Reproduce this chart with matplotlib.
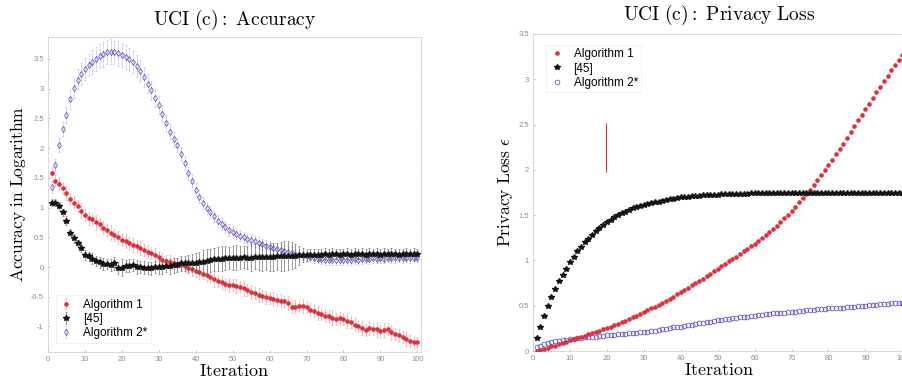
import matplotlib
matplotlib.use("Agg")
import matplotlib.pyplot as plt
import numpy as np

# ---------------- data ----------------
iterations = list(range(1, 101))

# Left panel: accuracy in logarithm
alg1_acc = [1.59, 1.45, 1.40, 1.33, 1.25, 1.15, 1.08, 1.02, 0.95, 0.87,
            0.82, 0.80, 0.75, 0.72, 0.66, 0.62, 0.58, 0.54, 0.50, 0.46,
            0.44, 0.40, 0.37, 0.35, 0.32, 0.28, 0.26, 0.24, 0.20, 0.17,
            0.12, 0.10, 0.09, 0.06, 0.05, 0.03, 0.02, -0.01, -0.04, -0.06,
            -0.09, -0.11, -0.14, -0.16, -0.21, -0.24, -0.26, -0.28, -0.30, -0.30,
            -0.32, -0.33, -0.36, -0.38, -0.42, -0.44, -0.47, -0.49, -0.51, -0.52,
            -0.54, -0.56, -0.57, -0.58, -0.61, -0.67, -0.67, -0.65, -0.66, -0.68,
            -0.72, -0.74, -0.77, -0.79, -0.82, -0.83, -0.85, -0.87, -0.86, -0.88,
            -0.90, -0.93, -0.97, -1.00, -1.03, -1.06, -1.03, -1.04, -1.05, -1.07,
            -1.06, -1.04, -1.10, -1.12, -1.15, -1.18, -1.21, -1.24, -1.27, -1.27]
alg1_acc_err = [0.10, 0.10, 0.11, 0.10, 0.12, 0.10, 0.11, 0.10, 0.12, 0.10,
                0.11, 0.10, 0.12, 0.10, 0.11, 0.10, 0.12, 0.10, 0.11, 0.10,
                0.12, 0.10, 0.11, 0.10, 0.12, 0.10, 0.11, 0.10, 0.12, 0.10,
                0.11, 0.10, 0.12, 0.10, 0.11, 0.10, 0.12, 0.10, 0.11, 0.10,
                0.12, 0.10, 0.11, 0.10, 0.12, 0.10, 0.11, 0.10, 0.12, 0.10,
                0.11, 0.10, 0.12, 0.10, 0.11, 0.10, 0.12, 0.10, 0.11, 0.10,
                0.12, 0.10, 0.11, 0.10, 0.12, 0.10, 0.11, 0.10, 0.12, 0.10,
                0.11, 0.10, 0.12, 0.10, 0.11, 0.10, 0.12, 0.10, 0.11, 0.10,
                0.12, 0.10, 0.11, 0.10, 0.12, 0.10, 0.11, 0.10, 0.12, 0.10,
                0.11, 0.10, 0.12, 0.10, 0.11, 0.10, 0.12, 0.10, 0.11, 0.10]
ref45_acc = [1.08, 1.08, 1.03, 0.92, 0.78, 0.58, 0.48, 0.40, 0.32, 0.20,
             0.18, 0.14, 0.10, 0.08, 0.05, 0.05, 0.04, 0.06, -0.01, -0.01,
             0.02, 0.02, 0.04, 0.00, 0.00, -0.01, -0.01, -0.02, 0.00, 0.00,
             0.00, 0.02, 0.01, 0.03, 0.04, 0.06, 0.06, 0.06, 0.07, 0.07,
             0.08, 0.09, 0.10, 0.11, 0.13, 0.13, 0.14, 0.15, 0.15, 0.15,
             0.16, 0.16, 0.17, 0.16, 0.16, 0.17, 0.17, 0.17, 0.17, 0.17,
             0.17, 0.18, 0.18, 0.18, 0.19, 0.19, 0.19, 0.20, 0.20, 0.20,
             0.21, 0.21, 0.20, 0.21, 0.22, 0.21, 0.22, 0.22, 0.21, 0.22,
             0.22, 0.21, 0.22, 0.22, 0.22, 0.21, 0.22, 0.22, 0.22, 0.21,
             0.22, 0.22, 0.22, 0.22, 0.21, 0.22, 0.22, 0.22, 0.22, 0.22]
ref45_acc_err = [0.06, 0.06, 0.07, 0.06, 0.07, 0.06, 0.07, 0.06, 0.07, 0.08,
                 0.08, 0.09, 0.08, 0.09, 0.10, 0.09, 0.10, 0.11, 0.10, 0.14,
                 0.10, 0.11, 0.10, 0.11, 0.10, 0.11, 0.10, 0.11, 0.10, 0.11,
                 0.12, 0.11, 0.12, 0.13, 0.12, 0.13, 0.12, 0.14, 0.15, 0.16,
                 0.18, 0.19, 0.20, 0.20, 0.19, 0.20, 0.21, 0.20, 0.19, 0.20,
                 0.21, 0.20, 0.19, 0.20, 0.22, 0.21, 0.22, 0.23, 0.22, 0.23,
                 0.24, 0.23, 0.24, 0.25, 0.24, 0.23, 0.20, 0.16, 0.12, 0.10,
                 0.10, 0.09, 0.10, 0.09, 0.10, 0.09, 0.10, 0.09, 0.10, 0.09,
                 0.10, 0.09, 0.10, 0.09, 0.10, 0.09, 0.10, 0.09, 0.10, 0.09,
                 0.10, 0.09, 0.10, 0.09, 0.10, 0.09, 0.10, 0.09, 0.10, 0.09]
alg2_acc = [1.35, 1.72, 2.05, 2.33, 2.56, 2.82, 3.02, 3.15, 3.25, 3.33,
            3.40, 3.45, 3.50, 3.55, 3.58, 3.62, 3.62, 3.61, 3.60, 3.57,
            3.54, 3.50, 3.45, 3.38, 3.30, 3.20, 3.08, 2.97, 2.85, 2.72,
            2.58, 2.42, 2.28, 2.15, 2.05, 1.90, 1.75, 1.58, 1.45, 1.30,
            1.18, 1.08, 1.00, 0.92, 0.85, 0.78, 0.72, 0.67, 0.62, 0.59,
            0.56, 0.53, 0.50, 0.47, 0.45, 0.43, 0.41, 0.38, 0.36, 0.34,
            0.32, 0.30, 0.29, 0.27, 0.26, 0.24, 0.22, 0.21, 0.19, 0.18,
            0.17, 0.15, 0.14, 0.13, 0.12, 0.12, 0.11, 0.11, 0.11, 0.11,
            0.12, 0.11, 0.13, 0.12, 0.13, 0.14, 0.13, 0.15, 0.14, 0.15,
            0.14, 0.16, 0.15, 0.15, 0.16, 0.15, 0.16, 0.15, 0.16, 0.16]
alg2_acc_err = [0.10, 0.10, 0.12, 0.12, 0.14, 0.16, 0.17, 0.18, 0.18, 0.19,
                0.19, 0.20, 0.20, 0.20, 0.21, 0.20, 0.21, 0.20, 0.21, 0.20,
                0.20, 0.19, 0.19, 0.18, 0.18, 0.17, 0.16, 0.16, 0.15, 0.15,
                0.14, 0.14, 0.13, 0.13, 0.12, 0.12, 0.12, 0.11, 0.11, 0.11,
                0.11, 0.10, 0.10, 0.10, 0.10, 0.10, 0.10, 0.10, 0.10, 0.10,
                0.09, 0.09, 0.09, 0.09, 0.09, 0.09, 0.09, 0.09, 0.09, 0.09,
                0.09, 0.09, 0.09, 0.09, 0.09, 0.09, 0.08, 0.08, 0.08, 0.08,
                0.08, 0.08, 0.08, 0.08, 0.08, 0.08, 0.08, 0.08, 0.08, 0.08,
                0.08, 0.08, 0.08, 0.08, 0.08, 0.08, 0.08, 0.08, 0.08, 0.08,
                0.08, 0.08, 0.08, 0.08, 0.08, 0.08, 0.08, 0.08, 0.08, 0.08]

# Right panel: privacy loss
alg1_loss = [0.00, 0.01, 0.02, 0.035, 0.05, 0.06, 0.075, 0.09, 0.10, 0.12,
             0.13, 0.145, 0.16, 0.17, 0.185, 0.20, 0.21, 0.225, 0.24, 0.255,
             0.27, 0.285, 0.30, 0.315, 0.33, 0.35, 0.37, 0.39, 0.41, 0.43,
             0.45, 0.47, 0.49, 0.51, 0.53, 0.55, 0.575, 0.60, 0.625, 0.65,
             0.675, 0.70, 0.725, 0.75, 0.775, 0.80, 0.83, 0.855, 0.88, 0.91,
             0.935, 0.96, 0.99, 1.015, 1.04, 1.07, 1.10, 1.13, 1.155, 1.18,
             1.21, 1.245, 1.28, 1.315, 1.35, 1.385, 1.425, 1.465, 1.505, 1.55,
             1.595, 1.64, 1.685, 1.73, 1.78, 1.83, 1.885, 1.94, 1.995, 2.05,
             2.11, 2.17, 2.23, 2.29, 2.35, 2.415, 2.48, 2.545, 2.61, 2.67,
             2.73, 2.79, 2.855, 2.92, 2.98, 3.04, 3.10, 3.16, 3.215, 3.27]
ref45_loss = [0.14, 0.27, 0.39, 0.50, 0.60, 0.69, 0.77, 0.84, 0.91, 0.98,
              1.04, 1.10, 1.15, 1.20, 1.24, 1.28, 1.32, 1.36, 1.39, 1.42,
              1.45, 1.48, 1.50, 1.52, 1.54, 1.56, 1.58, 1.59, 1.60, 1.61,
              1.62, 1.63, 1.64, 1.65, 1.66, 1.67, 1.675, 1.68, 1.69, 1.695,
              1.70, 1.705, 1.71, 1.71, 1.715, 1.72, 1.72, 1.72, 1.725, 1.725,
              1.73, 1.73, 1.73, 1.73, 1.735, 1.735, 1.735, 1.735, 1.74, 1.74,
              1.74, 1.74, 1.74, 1.74, 1.74, 1.74, 1.745, 1.745, 1.745, 1.745,
              1.745, 1.745, 1.745, 1.745, 1.745, 1.745, 1.75, 1.75, 1.75, 1.75,
              1.75, 1.75, 1.75, 1.75, 1.75, 1.75, 1.75, 1.75, 1.75, 1.75,
              1.75, 1.75, 1.75, 1.75, 1.75, 1.75, 1.75, 1.75, 1.75, 1.75]
alg2_loss = [0.04, 0.06, 0.08, 0.09, 0.10, 0.11, 0.115, 0.12, 0.125, 0.13,
             0.135, 0.14, 0.145, 0.15, 0.15, 0.155, 0.16, 0.165, 0.17, 0.175,
             0.18, 0.18, 0.185, 0.19, 0.19, 0.195, 0.20, 0.20, 0.205, 0.21,
             0.215, 0.22, 0.225, 0.23, 0.24, 0.245, 0.25, 0.26, 0.265, 0.27,
             0.28, 0.285, 0.29, 0.30, 0.305, 0.31, 0.32, 0.325, 0.33, 0.34,
             0.345, 0.35, 0.355, 0.36, 0.365, 0.37, 0.375, 0.38, 0.385, 0.39,
             0.395, 0.40, 0.405, 0.41, 0.415, 0.42, 0.42, 0.425, 0.43, 0.43,
             0.435, 0.44, 0.445, 0.45, 0.45, 0.455, 0.46, 0.46, 0.465, 0.47,
             0.47, 0.475, 0.48, 0.48, 0.485, 0.49, 0.49, 0.495, 0.50, 0.50,
             0.505, 0.51, 0.51, 0.515, 0.52, 0.52, 0.525, 0.53, 0.53, 0.53]
# stray vertical mark in the privacy-loss panel (x, y_low, y_high)
stray_mark = [19.7, 1.98, 2.52]

series_names = ["Algorithm 1", "[45]", "Algorithm 2*"]

# ---------------- style ----------------
plt.rcParams['mathtext.fontset'] = 'cm'
plt.rcParams['font.family'] = ['Liberation Sans', 'DejaVu Sans']

RED = '#e0303a'
RED_ERR = '#f3a3aa'
BLK = '#151515'
BLK_ERR = '#606060'
BLU = '#5b4fc4'
BLU_ERR = '#c3bcf0'
TICK = '#8c8c8c'

W, H = 902, 386
fig = plt.figure(figsize=(W / 100, H / 100), dpi=100)

def ax_at(x0, y0, x1, y1):
    return fig.add_axes([x0 / W, 1 - y1 / H, (x1 - x0) / W, (y1 - y0) / H])

def style_axes(ax):
    for s in ax.spines.values():
        s.set_color('#c8c8c8')
        s.set_linewidth(0.6)
        s.set_linestyle((0, (1, 1.5)))
    ax.tick_params(axis='both', labelsize=5.5, colors=TICK, length=1.5, width=0.4,
                   direction='in', pad=3)
    ax.set_xticks(np.arange(0, 101, 10))
    ax.set_xticklabels([str(v) for v in range(0, 101, 10)])

def style_legend(leg):
    fr = leg.get_frame()
    fr.set_edgecolor('#cfcfcf')
    fr.set_linestyle((0, (1, 1.5)))
    fr.set_linewidth(0.6)

x = np.array(iterations)

# ---------------- left panel ----------------
ax1 = ax_at(48, 37, 421, 352)
ax1.errorbar(x, alg1_acc, yerr=alg1_acc_err, fmt='o', ms=2.3, color=RED,
             ecolor=RED_ERR, elinewidth=0.5, capsize=0.8, capthick=0.4,
             label=series_names[0], zorder=3)
ax1.errorbar(x, ref45_acc, yerr=ref45_acc_err, fmt='*', ms=3.8, color=BLK,
             ecolor=BLK_ERR, elinewidth=0.45, capsize=0.8, capthick=0.4,
             label=series_names[1], zorder=4)
ax1.errorbar(x, alg2_acc, yerr=alg2_acc_err, fmt='d', ms=3.2, color=BLU,
             mfc='none', mew=0.55, ecolor=BLU_ERR, elinewidth=0.45, capsize=0.8,
             capthick=0.4, label=series_names[2], zorder=2)
ax1.set_xlim(0, 101)
ax1.set_ylim(-1.43, 3.87)
ax1.set_yticks([-1, -0.5, 0, 0.5, 1, 1.5, 2, 2.5, 3, 3.5])
ax1.set_yticklabels(['-1', '-0.5', '0', '0.5', '1', '1.5', '2', '2.5', '3', '3.5'])
style_axes(ax1)
ax1.set_title(r'$\mathrm{UCI\ (c){:}\ Accuracy}$', fontsize=14, pad=9)
ax1.set_xlabel(r'$\mathrm{Iteration}$', fontsize=13, labelpad=0)
ax1.set_ylabel(r'$\mathrm{Accuracy\ in\ Logarithm}$', fontsize=12.5, labelpad=2)
leg1 = ax1.legend(loc='lower left', fontsize=8.5, frameon=True, fancybox=False,
                  handlelength=1.2, handletextpad=0.8, borderpad=0.3,
                  labelspacing=0.2, bbox_to_anchor=(0.005, 0.01))
style_legend(leg1)

# ---------------- right panel ----------------
ax2 = ax_at(533, 34, 906, 351)
ax2.plot(x, alg1_loss, 'o', ms=2.3, color=RED, label=series_names[0], zorder=3)
ax2.plot(x, ref45_loss, '*', ms=3.8, color=BLK, label=series_names[1], zorder=4)
ax2.plot(x, alg2_loss, 'o', ms=3.4, mfc='none', mew=0.55, color=BLU,
         label=series_names[2], zorder=2)
ax2.vlines(stray_mark[0], stray_mark[1], stray_mark[2], color=RED, lw=0.8)
ax2.set_xlim(0, 101)
ax2.set_ylim(0, 3.5)
ax2.set_yticks([0, 0.5, 1, 1.5, 2, 2.5, 3, 3.5])
ax2.set_yticklabels(['0', '0.5', '1', '1.5', '2', '2.5', '3', '3.5'])
style_axes(ax2)
ax2.set_title(r'$\mathrm{UCI\ (c){:}\ Privacy\ Loss}$', fontsize=14, pad=10)
ax2.set_xlabel(r'$\mathrm{Iteration}$', fontsize=13, labelpad=0)
ax2.set_ylabel(r'$\mathrm{Privacy\ Loss}\ \epsilon$', fontsize=12.5, labelpad=2)
leg2 = ax2.legend(loc='upper left', fontsize=8.5, frameon=True, fancybox=False,
                  handlelength=1.2, handletextpad=0.8, borderpad=0.3,
                  labelspacing=0.2, bbox_to_anchor=(0.02, 0.985))
style_legend(leg2)

fig.savefig('out.png', dpi=100, facecolor='white')
